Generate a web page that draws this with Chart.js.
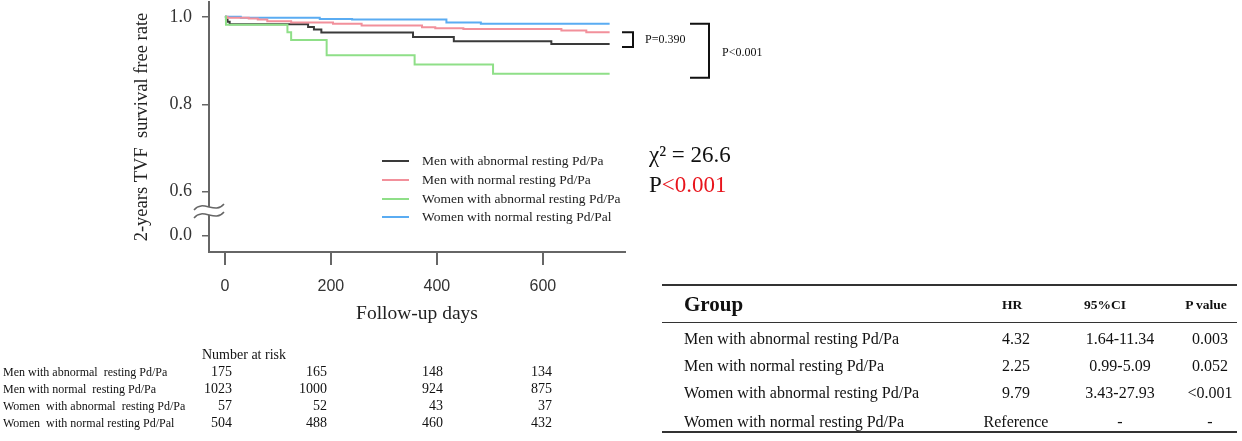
<!DOCTYPE html>
<html>
<head>
<meta charset="utf-8">
<script src="https://cdn.jsdelivr.net/npm/chart.js@4.4.1/dist/chart.umd.min.js"></script>
<style>
  html,body{margin:0;padding:0;background:#fff;}
  body{width:1242px;height:441px;overflow:hidden;position:relative;font-family:"Liberation Serif","Times New Roman",serif;color:#111;}
  #c{position:absolute;left:0;top:0;}
  .t{position:absolute;white-space:pre;line-height:1.2;}
  .rule{position:absolute;background:#333;}
</style>
</head>
<body>
<canvas id="c" width="1242" height="441"></canvas>
<div id="overlay"></div>
<script>
// ---------- data ----------
const seriesNames = ['Men with abnormal resting Pd/Pa','Men with normal resting Pd/Pa','Women with abnormal resting Pd/Pa','Women with normal resting Pd/Pal'];
const seriesColors = ['#3a3a3a','#f2909b','#8fdf88','#5aacf2'];

const menAbnDays  = [0, 2, 5, 9, 157, 168, 182, 355, 432, 616, 726];
const menAbnSurv  = [1, 0.994, 0.989, 0.983, 0.977, 0.971, 0.964, 0.954, 0.944, 0.938, 0.938];

const menNormDays = [0, 5, 45, 62, 80, 125, 204, 258, 372, 397, 450, 635, 682, 726];
const menNormSurv = [1, 0.998, 0.996, 0.994, 0.990, 0.987, 0.984, 0.980, 0.976, 0.974, 0.972, 0.969, 0.965, 0.965];

const womAbnDays  = [0, 2, 118, 125, 192, 358, 506, 726];
const womAbnSurv  = [1, 0.982, 0.965, 0.947, 0.912, 0.891, 0.870, 0.870];

const womNormDays = [0, 30, 179, 240, 418, 483, 726];
const womNormSurv = [1, 0.998, 0.995, 0.994, 0.987, 0.984, 0.984];

const xTickValues = [0, 200, 400, 600];
const yTickValues = [0.5, 0.6, 0.8, 1.0];
const yTickLabels = ['0.0', '0.6', '0.8', '1.0'];

const riskTitle = 'Number at risk';
const riskRowLabels = ['Men with abnormal  resting Pd/Pa','Men with normal  resting Pd/Pa','Women  with abnormal  resting Pd/Pa','Women  with normal resting Pd/Pal'];
const riskMenAbn  = [175, 165, 148, 134];
const riskMenNorm = [1023, 1000, 924, 875];
const riskWomAbn  = [57, 52, 43, 37];
const riskWomNorm = [504, 488, 460, 432];

const hrHeaders = ['Group', 'HR', '95%CI', 'P value'];
const hrGroups = ['Men with abnormal resting Pd/Pa','Men with normal resting Pd/Pa','Women with abnormal resting Pd/Pa','Women with normal resting Pd/Pa'];
const hrValues = ['4.32', '2.25', '9.79', 'Reference'];
const hrCI     = ['1.64-11.34', '0.99-5.09', '3.43-27.93', '-'];
const hrP      = ['0.003', '0.052', '<0.001', '-'];

const pairP = 'P=0.390';
const overallP = 'P<0.001';
const chiText = 'χ² = 26.6';
const logRankP = '<0.001';

// ---------- chart ----------
const seriesDays = [menAbnDays, menNormDays, womAbnDays, womNormDays];
const seriesSurv = [menAbnSurv, menNormSurv, womAbnSurv, womNormSurv];
const drawOrder = [3, 1, 0, 2];

const datasets = seriesNames.map((name, i) => ({
  label: name,
  data: seriesDays[i].map((d, j) => ({x: d, y: seriesSurv[i][j]})),
  borderColor: seriesColors[i],
  backgroundColor: seriesColors[i],
  borderWidth: 2,
  pointRadius: 0,
  stepped: 'before',
  fill: false,
  order: drawOrder[i]
}));

const serif = "'Liberation Serif','Times New Roman',serif";

const annot = {
  id: 'annot',
  afterDraw(chart) {
    const ctx = chart.ctx;
    const ys = chart.scales.y;
    const x0 = chart.chartArea.left;
    const m = ys.getPixelForValue(0.556);
    ctx.save();
    // axis break
    ctx.fillStyle = '#fff';
    ctx.fillRect(x0 - 3, m - 4, 6, 8);
    ctx.strokeStyle = '#666';
    ctx.lineWidth = 1.5;
    for (const dy of [-4, 4]) {
      ctx.beginPath();
      ctx.moveTo(x0 - 15, m + dy + 3);
      ctx.bezierCurveTo(x0 - 6, m + dy - 8, x0 + 6, m + dy + 8, x0 + 15, m + dy - 3);
      ctx.stroke();
    }
    // brackets
    ctx.strokeStyle = '#111';
    ctx.lineWidth = 2;
    const r = chart.chartArea.right;
    const t1 = ys.getPixelForValue(menNormSurv[menNormSurv.length - 1]);
    const b1 = ys.getPixelForValue(menAbnSurv[menAbnSurv.length - 1]) + 3;
    ctx.beginPath();
    ctx.moveTo(r - 3, t1); ctx.lineTo(r + 8, t1); ctx.lineTo(r + 8, b1); ctx.lineTo(r - 3, b1);
    ctx.stroke();
    const t2 = ys.getPixelForValue(womNormSurv[womNormSurv.length - 1]);
    const b2 = ys.getPixelForValue(womAbnSurv[womAbnSurv.length - 1]) + 4;
    ctx.beginPath();
    ctx.moveTo(r + 65, t2); ctx.lineTo(r + 84, t2); ctx.lineTo(r + 84, b2); ctx.lineTo(r + 65, b2);
    ctx.stroke();
    ctx.restore();
  }
};

new Chart(document.getElementById('c'), {
  type: 'line',
  data: {datasets},
  plugins: [annot],
  options: {
    responsive: false,
    animation: false,
    layout: {padding: {left: 0, top: 2, right: 617, bottom: 109}},
    plugins: {legend: {display: false}, tooltip: {enabled: false}},
    scales: {
      x: {
        type: 'linear',
        min: -30, max: 755,
        afterBuildTicks: s => { s.ticks = xTickValues.map(v => ({value: v})); },
        afterFit: s => { s.height = 80; s.paddingLeft = 0; s.paddingRight = 0; },
        grid: {drawOnChartArea: false, drawTicks: true, tickLength: 13, color: '#666', lineWidth: 2},
        border: {display: true, color: '#666', width: 2},
        ticks: {padding: 12, color: '#333', font: {family: "'Liberation Sans',Arial,sans-serif", size: 16}, maxRotation: 0},
        title: {display: true, text: 'Follow-up days', color: '#222', font: {family: serif, size: 19.5}, padding: {top: 0, bottom: 6}}
      },
      y: {
        type: 'linear',
        min: 0.462, max: 1.034,
        afterBuildTicks: s => { s.ticks = yTickValues.map(v => ({value: v})); },
        afterFit: s => { s.width = 209; s.paddingTop = 0; s.paddingBottom = 0; },
        grid: {drawOnChartArea: false, drawTicks: true, tickLength: 7, color: '#666', lineWidth: 1.5},
        border: {display: true, color: '#666', width: 2},
        ticks: {
          padding: 10, color: '#333', font: {family: serif, size: 18},
          callback: v => { const k = yTickValues.indexOf(v); return k >= 0 ? yTickLabels[k] : ''; }
        },
        title: {display: true, text: '2-years TVF  survival free rate', color: '#222', font: {family: serif, size: 18.5}, padding: {top: 131, bottom: 0}}
      }
    }
  }
});

// ---------- overlay text ----------
const ov = document.getElementById('overlay');
function put(text, x, yc, size, opt = {}) {
  const d = document.createElement('div');
  d.className = 't';
  d.textContent = text;
  d.style.fontSize = size + 'px';
  d.style.top = yc + 'px';
  d.style.left = x + 'px';
  const tx = opt.align === 'right' ? '-100%' : opt.align === 'center' ? '-50%' : '0';
  d.style.transform = `translate(${tx},-50%)`;
  if (opt.bold) d.style.fontWeight = 'bold';
  if (opt.color) d.style.color = opt.color;
  ov.appendChild(d);
  return d;
}
function rule(x, y, w, h) {
  const d = document.createElement('div');
  d.className = 'rule';
  Object.assign(d.style, {left: x + 'px', top: y + 'px', width: w + 'px', height: h + 'px'});
  ov.appendChild(d);
}

// legend
const legendY = [161, 180, 199, 217];
seriesNames.forEach((n, i) => {
  const l = document.createElement('div');
  Object.assign(l.style, {position: 'absolute', left: '382px', top: (legendY[i] - 0.75) + 'px', width: '27px', height: '1.5px', background: seriesColors[i]});
  ov.appendChild(l);
  put(n, 422, legendY[i], 13.5, {color: '#222'});
});

// p-values & chi-square
put(pairP, 645, 39, 12);
put(overallP, 722, 52, 12);
put(chiText, 649, 155, 23);
const pl = put('P', 649, 185, 23);
const red = document.createElement('span');
red.style.color = '#e8141c';
red.textContent = logRankP;
pl.appendChild(red);

// number at risk
put(riskTitle, 202, 355, 14);
const riskRows = [riskMenAbn, riskMenNorm, riskWomAbn, riskWomNorm];
const riskY = [372, 389, 406, 423];
const riskColRight = [232, 327, 443, 552];
riskRowLabels.forEach((lab, i) => {
  put(lab, 3, riskY[i], 12);
  riskRows[i].forEach((v, j) => put(String(v), riskColRight[j], riskY[i], 14, {align: 'right'}));
});

// HR table
rule(662, 284, 575, 2);
rule(662, 322, 575, 1);
rule(662, 431, 575, 2);
put(hrHeaders[0], 684, 305, 21, {bold: true});
const hrHeadCenter = [1012, 1105, 1206];
[hrHeaders[1], hrHeaders[2], hrHeaders[3]].forEach((h, j) => put(h, hrHeadCenter[j], 305, 13.5, {bold: true, align: 'center'}));
const hrColCenter = [1016, 1120, 1210];
const hrY = [339, 366, 393, 421.5];
hrGroups.forEach((g, i) => {
  put(g, 684, hrY[i], 16);
  put(hrValues[i], hrColCenter[0], hrY[i], 16, {align: 'center'});
  put(hrCI[i], hrColCenter[1], hrY[i], 16, {align: 'center'});
  put(hrP[i], hrColCenter[2], hrY[i], 16, {align: 'center'});
});
</script>
</body>
</html>
